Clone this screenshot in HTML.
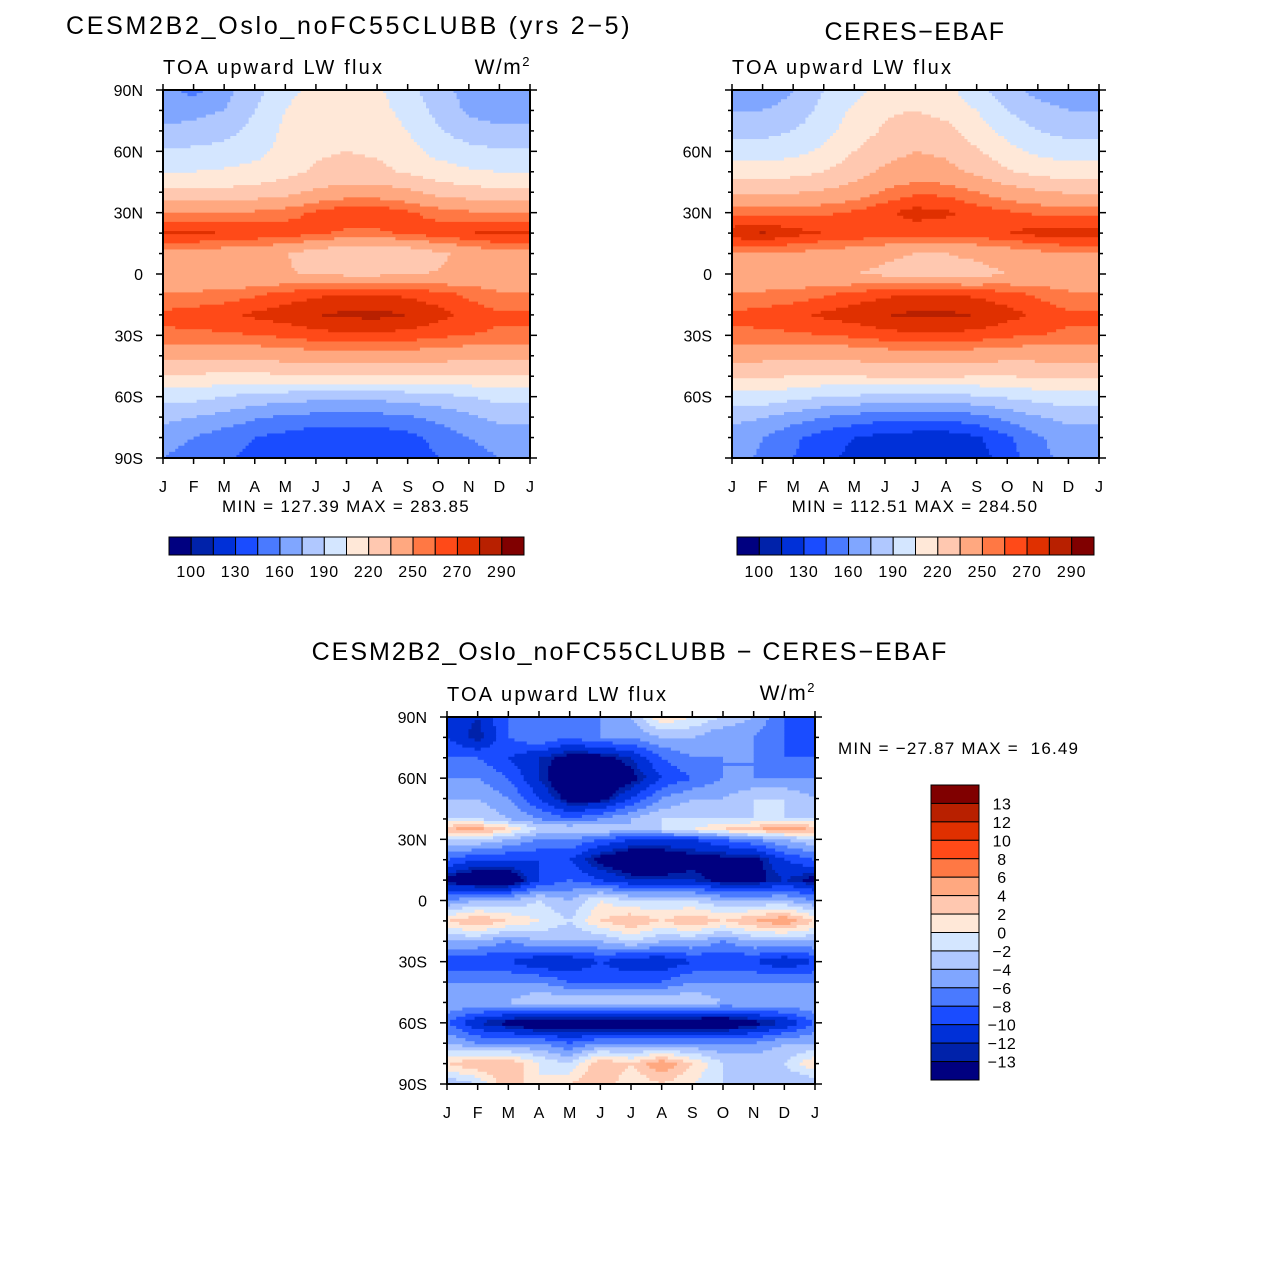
<!DOCTYPE html>
<html><head><meta charset="utf-8">
<style>
html,body{margin:0;padding:0;background:#fff;}
svg{display:block;}
text{font-family:"Liberation Sans",sans-serif;fill:#000;white-space:pre;}
</style></head>
<body>
<svg id="root" width="1263" height="1263" viewBox="0 0 1263 1263" xmlns="http://www.w3.org/2000/svg">
<rect width="1263" height="1263" fill="#fff"/>
<text x="66" y="34" font-size="25" letter-spacing="2.7">CESM2B2_Oslo_noFC55CLUBB (yrs 2−5)</text>
<text x="915" y="40" font-size="25" text-anchor="middle" letter-spacing="1.5">CERES−EBAF</text>
<text x="630" y="660" font-size="25" text-anchor="middle" letter-spacing="2">CESM2B2_Oslo_noFC55CLUBB − CERES−EBAF</text>
<g id="p1"></g><g id="p2"></g><g id="p3"></g>
</svg>
<script>
const months=["J","F","M","A","M","J","J","A","S","O","N","D","J"];
const lats10=[90,80,70,60,50,40,30,20,10,0,-10,-20,-30,-40,-50,-60,-70,-80,-90];
const fluxLevels=[100,115,130,145,160,175,190,205,220,235,250,260,270,280,290];
const fluxLabels=["100","130","160","190","220","250","270","290"];
const diffLevels=[-13,-12,-10,-8,-6,-4,-2,0,2,4,6,8,10,12,13];
const diffLabels=["13","12","10","8","6","4","2","0","−2","−4","−6","−8","−10","−12","−13"];
const colors=["#000080","#0022aa","#0030d8","#1a4cff","#4a7aff","#80a6ff","#b0c8ff","#d4e6ff","#ffe8d8","#ffc8b0","#ffa880","#ff7844","#ff4a18","#e03000","#b82000","#800000"];
const modelVals=[
[165,155,170,185,200,210,212,208,195,180,170,165,165],
[168,170,175,190,205,215,212,210,200,185,172,168,168],
[178,180,185,195,208,215,215,213,205,192,182,178,178],
[192,193,195,200,210,218,220,218,210,200,195,192,192],
[205,205,207,210,215,222,225,224,218,212,207,205,205],
[224,224,224,226,230,238,242,242,238,230,226,224,224],
[250,250,250,252,256,262,268,268,262,256,252,250,250],
[273,272,270,268,266,262,258,258,262,266,270,273,273],
[245,245,242,240,236,228,222,220,224,232,240,245,245],
[238,238,236,236,236,234,232,232,234,236,238,238,238],
[252,252,254,258,264,268,270,270,268,264,258,252,252],
[262,265,268,272,276,280,282,283,280,274,266,262,262],
[258,258,258,260,262,266,268,268,266,262,260,258,258],
[240,240,240,240,242,244,246,246,244,242,240,240,240],
[218,218,216,216,218,218,220,220,218,218,218,218,218],
[195,195,190,185,182,180,180,180,182,185,190,195,195],
[180,175,170,162,158,155,155,155,158,165,172,180,180],
[165,160,152,145,140,135,135,135,140,150,160,165,165],
[160,155,148,140,135,132,130,130,135,145,155,160,160]];
const obsVals=[
[165,165,175,190,200,210,212,210,195,180,170,165,165],
[175,175,180,195,208,218,220,215,205,190,180,175,175],
[185,185,190,200,212,222,228,225,212,200,190,185,185],
[198,198,200,208,220,230,235,232,222,210,202,198,198],
[212,212,215,220,228,238,242,240,232,222,215,212,212],
[234,234,234,237,242,252,258,257,250,242,237,234,234],
[256,256,256,258,262,268,274,272,266,262,258,256,256],
[276,281,274,270,268,266,264,264,266,270,274,276,276],
[250,250,248,245,242,238,235,235,238,242,246,250,250],
[240,240,238,238,235,232,228,228,230,235,238,240,240],
[252,252,254,258,264,268,270,270,268,264,258,252,252],
[262,264,268,272,276,280,282,282,280,274,268,262,262],
[258,258,258,260,262,266,268,268,266,262,260,258,258],
[240,240,238,238,240,242,244,244,242,240,240,240,240],
[222,222,220,218,220,222,222,222,220,220,222,222,222],
[200,200,195,190,188,186,185,186,188,192,196,200,200],
[180,176,168,160,155,150,150,150,155,165,174,180,180],
[168,160,148,138,130,125,122,122,128,142,158,168,168],
[165,158,145,135,125,118,115,115,122,138,155,165,165]];
const diffLats=[90,80,70,60,50,40,35,30,20,10,0,-10,-20,-30,-40,-50,-60,-70,-80,-90];
const diffVals=[
[-10,-12,-8,-6,-6,-6,-4,2,0,-2,-4,-8,-10],
[-10,-13,-8,-6,-8,-6,-6,-4,-4,-6,-6,-8,-10],
[-8,-8,-10,-12,-14,-14,-12,-8,-6,-6,-6,-8,-8],
[-6,-6,-8,-12,-16,-16,-14,-10,-8,-6,-6,-6,-6],
[-4,-4,-6,-10,-14,-14,-10,-6,-4,-4,-2,-2,-4],
[-2,-2,-4,-6,-8,-6,-4,-2,-2,-2,-2,-2,-2],
[4,5,2,-2,-2,-2,-4,-2,0,2,4,5,4],
[-2,-2,-4,-6,-6,-8,-10,-10,-10,-8,-6,-4,-2],
[-8,-10,-10,-10,-10,-14,-16,-16,-14,-14,-14,-10,-8],
[-14,-16,-16,-10,-8,-10,-12,-12,-12,-14,-14,-12,-14],
[-6,-4,-4,-2,-4,0,-2,-2,-2,-4,-4,-4,-6],
[2,4,2,0,-2,2,4,2,4,2,4,6,2],
[-4,-4,-6,-4,-4,-4,-2,-4,-4,-6,-4,-4,-4],
[-10,-10,-10,-12,-12,-10,-12,-12,-10,-10,-10,-12,-10],
[-6,-6,-6,-6,-8,-8,-8,-8,-6,-6,-6,-6,-6],
[-4,-4,-4,-2,-2,-2,-2,-2,-2,-4,-4,-4,-4],
[-8,-12,-14,-16,-16,-16,-16,-16,-16,-16,-14,-12,-8],
[-4,-6,-6,-6,-8,-6,-6,-6,-6,-6,-6,-4,-4],
[2,4,4,0,-2,4,2,6,2,-2,-2,-2,2],
[-4,-2,4,0,2,4,0,2,0,-2,-4,-4,-4]];

const NS="http://www.w3.org/2000/svg";
function el(tag,attrs,parent,txt){const e=document.createElementNS(NS,tag);for(const k in attrs)e.setAttribute(k,attrs[k]);if(txt!==undefined)e.textContent=txt;parent.appendChild(e);return e;}
function colorIdx(v,levels){let i=0;while(i<levels.length&&v>=levels[i])i++;return i;}
function interp(lats,vals,lat,m){
  let r=0;while(r<lats.length-2&&lat<lats[r+1])r++;
  const t=(lats[r]-lat)/(lats[r]-lats[r+1]);
  const c=Math.min(Math.floor(m),11);const s=m-c;
  const a=vals[r][c]*(1-s)+vals[r][c+1]*s;
  const b=vals[r+1][c]*(1-s)+vals[r+1][c+1]*s;
  return a*(1-t)+b*t;
}
function panel(g,x0,y0,w,h,lats,vals,levels,latLabels,name){
  const xs=m=>x0+m/12*w, ys=l=>y0+(90-l)/180*h;
  const field=el("g",{},g);
  
  
  const NX=120,NY=120;
  for(let j=0;j<NY;j++){
    const lat=90-(j+0.5)/NY*180;
    let start=0,prev=-1;
    for(let i=0;i<=NX;i++){
      let ci=-1;
      if(i<NX){const m=(i+0.5)/NX*12;ci=colorIdx(interp(lats,vals,lat,m),levels);}
      if(i===0){prev=ci;continue;}
      if(ci!==prev){
        const r=el("rect",{x:xs(start/NX*12),y:ys(90-j/NY*180),width:(i-start)/NX*w+0.6,height:h/NY+0.6,fill:colors[prev]},field);
        
        
        start=i;prev=ci;
      }
    }
  }
  el("rect",{x:x0,y:y0,width:w,height:h,fill:"none",stroke:"#000","stroke-width":2},g);
  for(let m=0;m<=12;m++){
    const x=xs(m);
    el("line",{x1:x,x2:x,y1:y0+h,y2:y0+h+6,stroke:"#000","stroke-width":1.5},g);
    el("line",{x1:x,x2:x,y1:y0,y2:y0-6,stroke:"#000","stroke-width":1.5},g);
    const t=el("text",{x:x,y:y0+h+34,"font-size":16,"text-anchor":"middle"},g,months[m]);
    
    
  }
  for(let l=-90;l<=90;l+=10){
    const y=ys(l),major=l%30===0,len=major?7:4;
    el("line",{x1:x0-len,x2:x0,y1:y,y2:y,stroke:"#000","stroke-width":1.5},g);
    el("line",{x1:x0+w,x2:x0+w+len,y1:y,y2:y,stroke:"#000","stroke-width":1.5},g);
  }
  latLabels.forEach(l=>{
    const s=l===0?"0":(Math.abs(l)+(l>0?"N":"S"));
    const t=el("text",{x:x0-20,y:ys(l)+6,"font-size":16,"text-anchor":"end"},g,s);
    
    
  });
  const st=el("text",{x:x0,y:y0-16,"font-size":20,"letter-spacing":"2.2"},g,"TOA upward LW flux");
  
  
}
function units(g,x,y){
  const t=el("text",{x:x,y:y,"font-size":21,"text-anchor":"end","letter-spacing":"1.5"},g);
  
  
  el("tspan",{},t,"W/m");
  el("tspan",{dy:-8,"font-size":13},t,"2");
}
function hbar(g,x0,y0,w,h){
  const bw=w/16;
  for(let i=0;i<16;i++){
    const r=el("rect",{x:x0+i*bw,y:y0,width:bw,height:h,fill:colors[i],stroke:"#000","stroke-width":1},g);
    
    
  }
  fluxLabels.forEach((s,k)=>{
    const t=el("text",{x:x0+(2*k+1)*bw,y:y0+h+22,"font-size":16,"text-anchor":"middle","letter-spacing":"1"},g,s);
    
    
  });
}
const p1=document.getElementById("p1"),p2=document.getElementById("p2"),p3=document.getElementById("p3");
panel(p1,163,90,367,368,lats10,modelVals,fluxLevels,[90,60,30,0,-30,-60,-90],"model");
units(p1,531,74);
let t=el("text",{x:346,y:512,"font-size":17,"text-anchor":"middle","letter-spacing":"1.3"},p1,"MIN = 127.39 MAX = 283.85");

hbar(p1,169,537,355,18);
panel(p2,732,90,367,368,lats10,obsVals,fluxLevels,[60,30,0,-30,-60],"obs");
t=el("text",{x:915,y:512,"font-size":17,"text-anchor":"middle","letter-spacing":"1.3"},p2,"MIN = 112.51 MAX = 284.50");

hbar(p2,737,537,357,18);
panel(p3,447,717,368,367,diffLats,diffVals,diffLevels,[90,60,30,0,-30,-60,-90],"diff");
units(p3,816,700);
t=el("text",{x:838,y:754,"font-size":17,"letter-spacing":"1.2"},p3,"MIN = −27.87 MAX =  16.49");

const vb=el("g",{},p3);
const bh=(1080-785)/16;
for(let i=0;i<16;i++){
  const r=el("rect",{x:931,y:785+i*bh,width:48,height:bh,fill:colors[15-i],stroke:"#000","stroke-width":1},vb);
  
  
}
diffLabels.forEach((s,k)=>{
  const tt=el("text",{x:1002,y:785+(k+1)*bh+6,"font-size":16,"text-anchor":"middle","letter-spacing":"0.5"},vb,s);
  
  
});
</script>
</body></html>
